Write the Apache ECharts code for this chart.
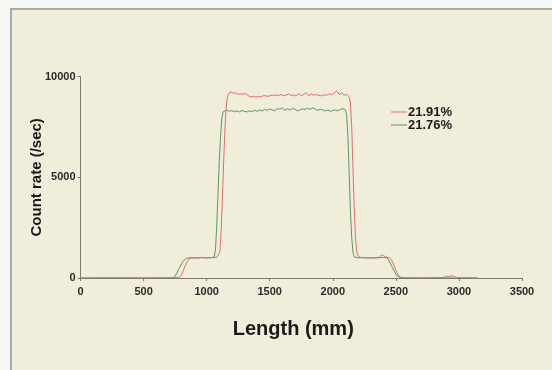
<!DOCTYPE html>
<html>
<head>
<meta charset="utf-8">
<script src="https://cdn.jsdelivr.net/npm/echarts@6/dist/echarts.min.js"></script>
<style>
html,body{margin:0;padding:0;background:#f6f6f4;overflow:hidden;width:552px;height:370px;}
#frame{position:absolute;left:10px;top:8px;width:542px;height:362px;background:#f1eddb;border-left:2px solid #a9a9a6;border-top:2px solid #a9a9a6;box-sizing:border-box;}
#chart{position:absolute;left:0;top:0;width:552px;height:370px;}
</style>
</head>
<body>
<div id="frame"></div>
<div id="chart"></div>
<script>
// Series names
const seriesNames = ['21.91%', '21.76%'];
// Axis ticks
const xTicks = [0, 500, 1000, 1500, 2000, 2500, 3000, 3500];
const yTicks = [0, 5000, 10000];

// 21.91% (red) : length (mm) and count rate (/sec)
const redLength = [0,300,500,700,780,800,820,840,860,880,900,950,1000,1050,1080,1095,1105,1115,1125,1135,1145,1155,1165,1175,1185,
  1195,1210,1230,1250,1270,1290,1310,1330,1350,1370,1390,1410,1430,1450,1470,1490,1510,1530,1550,1570,1590,1610,1630,1650,1670,1690,
  1710,1730,1750,1770,1790,1810,1830,1850,1870,1890,1910,1930,1950,1970,1990,2010,2030,2050,2070,2090,2110,2130,
  2140,2150,2160,2170,2180,2190,2200,2220,2260,2300,2340,2370,2390,2400,2420,2450,2470,2490,2510,2530,2550,2600,2700,2800,2880,2900,2920,2940,2960,2980,3050,3150];
const redCount = [0,10,0,10,20,150,450,750,950,1000,990,1010,990,1020,1010,1050,1300,2300,4000,5800,7400,8500,9000,9150,9250,
  9300,9180,9200,9120,9150,9120,9180,9050,9000,9030,8980,9020,9000,9060,9050,9020,9080,9050,9100,9060,9120,9050,9080,9150,9060,9100,
  9030,9180,9050,9120,9200,9050,9150,9080,9120,9060,9050,9100,9080,9150,9100,9180,9300,9120,9200,9080,9120,9000,
  8700,7500,5500,3500,2000,1300,1100,1020,1000,1010,1000,1050,1150,1100,1050,1000,850,550,250,60,15,10,0,10,30,100,60,120,80,20,10,0];

// 21.76% (green) : length (mm) and count rate (/sec)
const greenLength = [0,300,500,700,740,760,780,800,820,840,860,880,920,960,1000,1040,1060,1070,1080,1090,1100,1110,1120,1130,1140,
  1160,1180,1200,1220,1240,1260,1280,1300,1320,1340,1360,1380,1400,1420,1440,1460,1480,1500,1520,1540,1560,1580,1600,1620,1640,1660,
  1680,1700,1720,1740,1760,1780,1800,1820,1840,1860,1880,1900,1920,1940,1960,1980,2000,2020,2040,2060,2080,2100,
  2110,2120,2130,2140,2150,2160,2170,2200,2250,2300,2350,2400,2430,2450,2470,2490,2510,2530,2600,2800,3000,3150];
const greenCount = [0,10,0,10,20,200,450,700,880,980,1000,1010,990,1020,1000,1010,1050,1400,2600,4200,5800,7000,7900,8250,8300,
  8350,8280,8320,8260,8300,8250,8320,8280,8250,8300,8270,8330,8280,8350,8300,8380,8320,8400,8350,8300,8420,8380,8450,8330,8400,8350,
  8420,8380,8300,8350,8400,8370,8430,8380,8450,8400,8330,8380,8350,8300,8340,8280,8320,8350,8300,8380,8420,8350,
  8100,7000,5200,3300,2000,1300,1050,1000,1010,990,1000,1020,1000,800,550,300,100,20,0,10,0,0];

function pairs(xs, ys){ return xs.map((x,i)=>[x, ys[i]]); }

const chart = echarts.init(document.getElementById('chart'), null, {renderer:'canvas'});
const font = 'Arial, "Liberation Sans", sans-serif';
chart.setOption({
  backgroundColor: 'transparent',
  animation: false,
  grid: {left: 80.5, right: 30, top: 76.7, bottom: 92, containLabel: false},
  legend: {
    orient: 'vertical', left: 391, top: 102, itemGap: -7, padding: 0,
    itemWidth: 16, itemHeight: 1, icon: 'rect',
    textStyle: {fontFamily: font, fontWeight: 'bold', fontSize: 13, color: '#1a1a1a', lineHeight: 13, padding: [0,0,7,-4]},
    data: seriesNames
  },
  xAxis: {
    type: 'value', min: xTicks[0], max: xTicks[xTicks.length-1], interval: 500,
    name: 'Length (mm)', nameLocation: 'middle', nameGap: 41,
    nameTextStyle: {fontFamily: font, fontWeight: 'bold', fontSize: 20, color: '#1a1a1a', padding: [0,16,0,0]},
    axisLine: {show: true, lineStyle: {color: '#7a7a74', width: 1}},
    axisTick: {show: true, length: 3, lineStyle: {color: '#7a7a74'}},
    axisLabel: {fontFamily: font, fontWeight: 'bold', fontSize: 11, color: '#2a2a2a', margin: 8, formatter: v => String(v)},
    splitLine: {show: false}
  },
  yAxis: {
    type: 'value', min: yTicks[0], max: yTicks[yTicks.length-1], interval: 5000,
    name: 'Count rate (/sec)', nameLocation: 'middle', nameGap: 36, nameRotate: 90, nameMoveOverlap: false,
    nameTextStyle: {fontFamily: font, fontWeight: 'bold', fontSize: 15, color: '#1a1a1a'},
    axisLine: {show: true, lineStyle: {color: '#7a7a74', width: 1}},
    axisTick: {show: true, length: 3, lineStyle: {color: '#7a7a74'}},
    axisLabel: {fontFamily: font, fontWeight: 'bold', fontSize: 11, color: '#2a2a2a', margin: 5, formatter: v => String(v)},
    splitLine: {show: false}
  },
  series: [
    {name: seriesNames[0], type: 'line', data: pairs(redLength, redCount), showSymbol: false,
     lineStyle: {color: '#e36b6b', width: 1}, itemStyle: {color: '#e36b6b'}, z: 3},
    {name: seriesNames[1], type: 'line', data: pairs(greenLength, greenCount), showSymbol: false,
     lineStyle: {color: '#56995e', width: 1}, itemStyle: {color: '#56995e'}, z: 2}
  ]
});
</script>
</body>
</html>
